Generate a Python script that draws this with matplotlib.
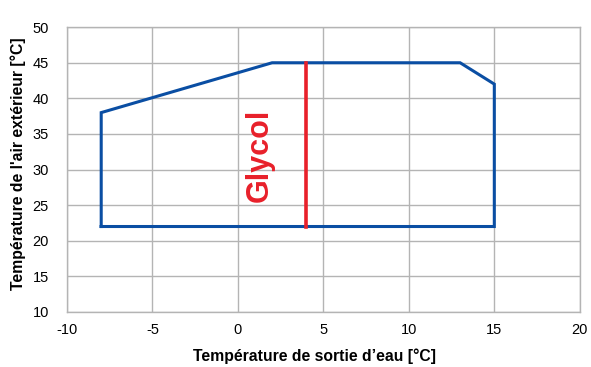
import matplotlib
matplotlib.use("Agg")
import matplotlib.pyplot as plt

plt.rcParams['font.family'] = ['Liberation Sans', 'DejaVu Sans']
plt.rcParams['axes.unicode_minus'] = False

# operating envelope (water outlet temp, outdoor air temp)
envelope_x = [-8, -8, 2, 13, 15, 15, -8]
envelope_y = [22, 38, 45, 45, 42, 22, 22]

# glycol limit
glycol_x = [4, 4]
glycol_y = [22, 45]

x_ticks = [-10, -5, 0, 5, 10, 15, 20]
y_ticks = [10, 15, 20, 25, 30, 35, 40, 45, 50]

fig = plt.figure(figsize=(5.91, 3.67), dpi=100)
ax = fig.add_axes([0.1134, 0.150, 0.8676, 0.776])

ax.plot(envelope_x, envelope_y, color='#0a4ea3', linewidth=2.2, solid_joinstyle='miter', zorder=3)
ax.plot(glycol_x, glycol_y, color='#e8202a', linewidth=2.6, zorder=4)
ax.text(1.3, 32, 'Glycol', color='#e8202a', fontsize=22, fontweight='bold',
        rotation=90, ha='center', va='center')

ax.set_xlim(-10, 20)
ax.set_ylim(10, 50)
ax.set_xticks(x_ticks)
ax.set_yticks(y_ticks)
ax.grid(True, color='#b4b4b4', linewidth=1.0)
ax.set_axisbelow(True)
for s in ax.spines.values():
    s.set_color('#b4b4b4')
    s.set_linewidth(1.0)
ax.tick_params(length=0, labelsize=10.5)
ax.tick_params(axis='y', pad=13)
ax.tick_params(axis='x', pad=8)

ax.set_xlabel("Température de sortie d\u2019eau [°C]", fontsize=11.3, fontweight='bold')
ax.set_ylabel("Température de l'air extérieur [°C]", fontsize=11.3, fontweight='bold')
ax.xaxis.set_label_coords(0.482, -0.128)
ax.yaxis.set_label_coords(-0.080, 0.521)

fig.savefig('out.png', dpi=100)
